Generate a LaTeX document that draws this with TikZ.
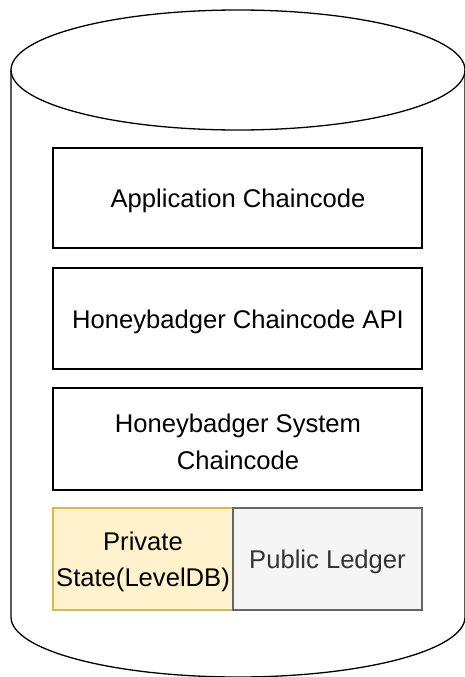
\documentclass[tikz,border=0pt]{standalone}
\usepackage{fontspec}
\setmainfont{Liberation Sans}
\definecolor{privfill}{HTML}{FFF2CC}
\definecolor{privdraw}{HTML}{D6B656}
\definecolor{pubfill}{HTML}{F5F5F5}
\definecolor{pubdraw}{HTML}{666666}
\definecolor{pubtext}{HTML}{333333}
\begin{document}
\begin{tikzpicture}[x=1pt,y=-1pt,
  layer/.style={draw=black,line width=1.3pt,fill=white},
  lbl/.style={align=center,font=\fontsize{25.6}{36.5}\selectfont}]
\useasboundingbox (0,0) rectangle (465,677);
% cylinder
\draw[line width=1.3pt,fill=white] (11,70) -- (11,617)
  arc[start angle=180,end angle=360,x radius=227,y radius=-60]
  -- (465,70);
\draw[line width=1.3pt] (238,70) ellipse[x radius=227,y radius=60];
% layers
\draw[layer] (53,148) rectangle (422,248);
\node[lbl] (app) at (238,201) {Application Chaincode};
\draw[layer] (53,268) rectangle (422,369);
\node[lbl] (api) at (238,321.5) {Honeybadger Chaincode API};
\draw[layer] (53,388) rectangle (422,490);
\node[lbl] (sys) at (238,442) {Honeybadger System\\Chaincode};
\draw[line width=1.3pt,draw=privdraw,fill=privfill] (53,508) rectangle (233,610);
\node[lbl] (priv) at (143,562) {Private\\State(LevelDB)};
\draw[line width=1.3pt,draw=pubdraw,fill=pubfill] (233,508) rectangle (422,610);
\node[lbl,text=pubtext] (pub) at (327.5,562) {Public Ledger};
\end{tikzpicture}
\end{document}
